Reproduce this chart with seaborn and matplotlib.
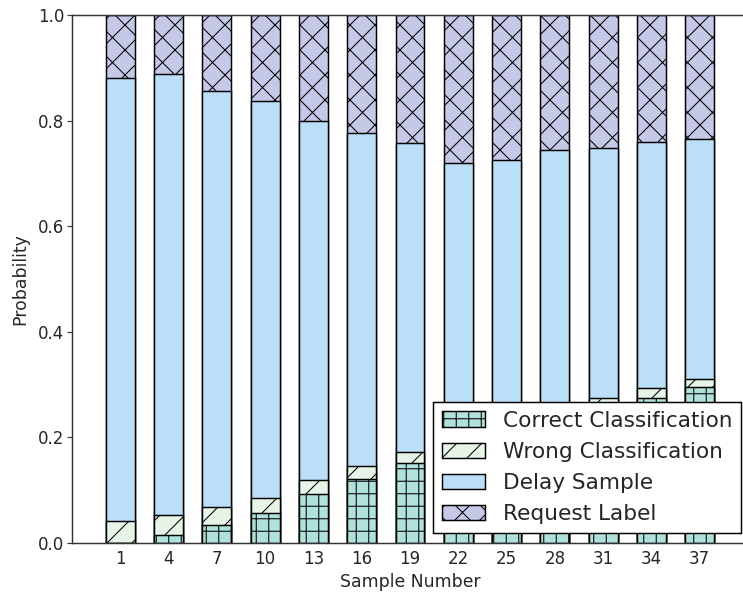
import matplotlib
matplotlib.use("Agg")
import matplotlib.pyplot as plt
import numpy as np
import pandas as pd
import seaborn as sns

# ---- data ----
sample_numbers = [1, 4, 7, 10, 13, 16, 19, 22, 25, 28, 31, 34, 37]
correct_classification = [0.0, 0.015, 0.035, 0.057, 0.092, 0.122, 0.152, 0.180, 0.205, 0.235, 0.262, 0.274, 0.295]
wrong_classification = [0.042, 0.038, 0.033, 0.029, 0.027, 0.023, 0.021, 0.020, 0.018, 0.016, 0.013, 0.019, 0.016]
delay_sample = [0.839, 0.835, 0.788, 0.752, 0.680, 0.631, 0.585, 0.520, 0.503, 0.493, 0.473, 0.467, 0.454]
request_label = [0.119, 0.112, 0.144, 0.162, 0.201, 0.224, 0.242, 0.280, 0.274, 0.256, 0.252, 0.240, 0.235]
yticks = [0.0, 0.2, 0.4, 0.6, 0.8, 1.0]

series_names = ["Correct Classification", "Wrong Classification", "Delay Sample", "Request Label"]
series_values = [correct_classification, wrong_classification, delay_sample, request_label]
colors = ["#b0e1da", "#e6f5e7", "#bcdff9", "#c6c8e8"]
hatches = ["+", "/", "", "x"]

DPI = 75
sns.set_style("white")
plt.rcParams["font.family"] = ["DejaVu Sans"]
plt.rcParams["hatch.linewidth"] = 1.0
plt.rcParams["hatch.color"] = "black"

fig = plt.figure(figsize=(743 / DPI, 599 / DPI), dpi=DPI)
ax = fig.add_axes([72 / 743, 1 - 543 / 599, 676 / 743, 528 / 599])

# cumulative tops, draw from the top segment down so lower segments overlay
cum = np.cumsum(np.array(series_values), axis=0)
handles = {}
for i in range(len(series_names) - 1, -1, -1):
    df = pd.DataFrame({"x": sample_numbers, "y": cum[i]})
    sns.barplot(data=df, x="x", y="y", native_scale=True, width=0.6,
                color=colors[i], saturation=1, errorbar=None,
                edgecolor="black", linewidth=1.4, hatch=hatches[i] or None,
                label=series_names[i], ax=ax)
    handles[series_names[i]] = ax.containers[-1]

ax.set_xlim(-2, 40)
ax.set_ylim(0, 1.0)
ax.set_xticks(sample_numbers)
ax.set_xticklabels([str(s) for s in sample_numbers])
ax.set_yticks(yticks)
ax.set_yticklabels([f"{t:.1f}" for t in yticks])

for sp in ax.spines.values():
    sp.set_color("#333333")
    sp.set_linewidth(1.4)
    sp.set_visible(True)

ax.tick_params(axis="x", direction="in", top=True, bottom=True, length=4.5,
               width=1.1, color="#333333", labelsize=16, pad=6.5)
ax.tick_params(axis="y", direction="out", left=True, right=True, length=5,
               width=1.1, color="#333333", labelsize=16, pad=2.5)

ax.set_xlabel("Sample Number", fontsize=16.5, labelpad=5)
ax.set_ylabel("Probability", fontsize=16.5, labelpad=8)

leg = ax.legend([handles[n] for n in series_names], series_names,
                loc="lower right", bbox_to_anchor=(0.9896, 0.019),
                borderaxespad=0, fontsize=20.8, fancybox=False, framealpha=1,
                edgecolor="black", handlelength=2.0, labelspacing=0.52,
                borderpad=0.4)
leg.get_frame().set_linewidth(1.4)

fig.savefig("out.png", dpi=DPI)
